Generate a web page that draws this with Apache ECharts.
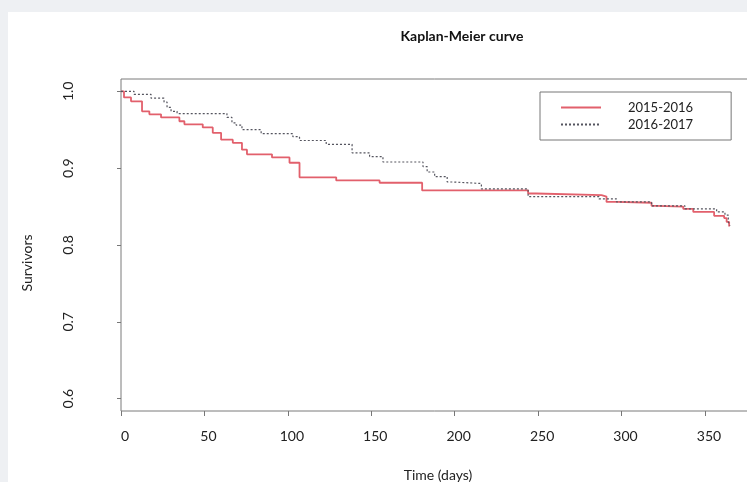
<!DOCTYPE html>
<html>
<head>
    <meta charset="utf-8" />
    <title>Kaplan-Meier curve</title>
    <script src="https://cdn.jsdelivr.net/npm/echarts@6.0.0/dist/echarts.min.js"></script>
    <style>
        html, body { margin: 0; padding: 0; background: #eef0f3; overflow: hidden; }
        #panel { position: absolute; left: 8px; top: 12px; width: 739px; height: 470px; background: #fff; }
        #km { position: absolute; left: 0; top: 0; width: 747px; height: 482px; }
    </style>
</head>
<body>
    <div id="panel"></div>
    <div id="km"></div>

    <script>
        // tick labels
        var xTicks = [0, 50, 100, 150, 200, 250, 300, 350];
        var yTicks = [0.6, 0.7, 0.8, 0.9, 1.0];

        // 2015-2016 (red, solid)
        var daysA = [0, 1.8, 6, 12.6, 17, 24, 35, 38, 49, 55, 60, 67, 72.5, 75.5, 90.5, 101, 107, 129, 155, 180.5, 244, 249, 288, 291, 297, 318, 321, 337, 343, 355.5, 361.5, 363, 364.5];
        var survA = [1.0, 0.992, 0.987, 0.974, 0.970, 0.966, 0.961, 0.957, 0.953, 0.946, 0.937, 0.933, 0.924, 0.918, 0.914, 0.907, 0.888, 0.884, 0.881, 0.871, 0.867, 0.865, 0.863, 0.856, 0.855, 0.851, 0.850, 0.847, 0.843, 0.838, 0.835, 0.830, 0.824];

        // 2016-2017 (dark, dotted)
        var daysB = [0, 7.8, 18, 25.8, 27.6, 30, 33.6, 63.5, 66.5, 69, 72.5, 84, 103, 107, 123, 138.5, 149, 157, 181, 183.5, 188, 195.5, 199, 216, 244, 286.5, 297, 318, 338, 357, 362, 364, 365];
        var survB = [1.0, 0.996, 0.991, 0.986, 0.979, 0.974, 0.971, 0.966, 0.959, 0.956, 0.950, 0.945, 0.941, 0.936, 0.931, 0.920, 0.915, 0.908, 0.902, 0.895, 0.889, 0.882, 0.880, 0.873, 0.863, 0.860, 0.856, 0.851, 0.847, 0.843, 0.839, 0.830, 0.825];

        function pairs(xs, ys) {
            var out = [];
            for (var i = 0; i < xs.length; i++) out.push([xs[i], ys[i]]);
            return out;
        }

        var font = 'Lato, "Open Sans", sans-serif';
        var km = echarts.init(document.getElementById('km'));
        km.setOption({
            animation: false,
            textStyle: { fontFamily: font, color: '#222' },
            title: {
                text: 'Kaplan-Meier curve',
                left: 457, top: 24, textAlign: 'center',
                textStyle: { fontFamily: font, fontSize: 14, fontWeight: 'bold', color: '#111' }
            },
            legend: {
                orient: 'vertical',
                left: 540, top: 92,
                padding: [9, 38, 9, 20],
                itemGap: 4,
                itemWidth: 40, itemHeight: 14,
                borderColor: '#777', borderWidth: 1,
                itemStyle: { opacity: 0 },
                textStyle: { fontFamily: font, fontSize: 13, color: '#222', padding: [0, 0, 0, 22] },
                data: ['2015-2016', '2016-2017']
            },
            grid: {
                left: 121, top: 79, width: 634, height: 332,
                outerBoundsMode: 'none', containLabel: false,
                show: true, borderColor: '#7a7a7a', borderWidth: 1
            },
            xAxis: {
                type: 'value', min: 0, max: 380,
                name: 'Time (days)', nameLocation: 'middle', nameGap: 57,
                nameTextStyle: { fontFamily: font, fontSize: 14, color: '#222' },
                axisLine: { show: false },
                axisTick: { show: true, length: 5, customValues: xTicks, lineStyle: { color: '#777' } },
                axisLabel: { customValues: xTicks, margin: 18, fontSize: 14, color: '#222', padding: [0, 0, 0, 8] },
                splitLine: { show: false }
            },
            yAxis: {
                type: 'value', min: 0.584, max: 1.016,
                name: 'Survivors', nameLocation: 'middle', nameRotate: 90, nameGap: 87,
                nameTextStyle: { fontFamily: font, fontSize: 14, color: '#222', padding: [0, 36, 0, 0] },
                axisLine: { show: false },
                axisTick: { show: true, length: 4, customValues: yTicks, lineStyle: { color: '#777' } },
                axisLabel: {
                    customValues: yTicks, rotate: 90, margin: 46, fontSize: 14, color: '#222',
                    formatter: function (v) { return v.toFixed(1); }
                },
                splitLine: { show: false }
            },
            series: [
                {
                    name: '2015-2016', type: 'line', step: 'end', symbol: 'none',
                    data: pairs(daysA, survA),
                    lineStyle: { color: '#e2606c', width: 1.8 },
                    itemStyle: { color: '#e2606c' }
                },
                {
                    name: '2016-2017', type: 'line', step: 'end', symbol: 'none',
                    data: pairs(daysB, survB),
                    lineStyle: { color: '#55555f', width: 1.2, type: [2, 2] },
                    itemStyle: { color: '#55555f' }
                }
            ]
        });
    </script>
</body>
</html>
